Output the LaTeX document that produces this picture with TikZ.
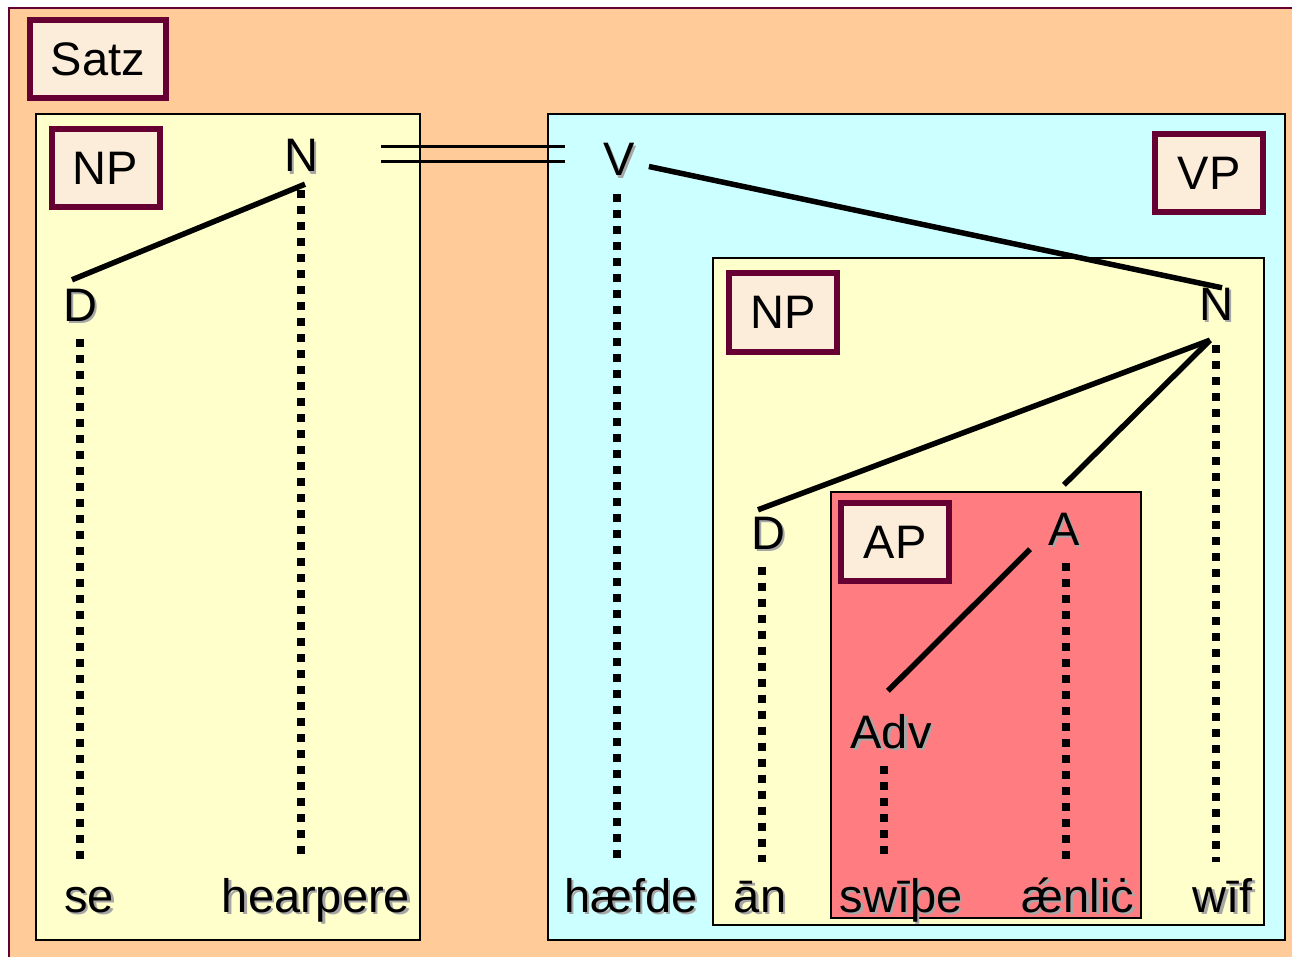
\documentclass[tikz,border=0pt]{standalone}
\usepackage{fontspec}
\setmainfont{Liberation Sans}
\definecolor{peach}{RGB}{255,204,153}
\definecolor{maroon}{RGB}{102,0,51}
\definecolor{lemon}{RGB}{255,255,204}
\definecolor{aqua}{RGB}{204,255,255}
\definecolor{rose}{RGB}{255,124,128}
\definecolor{cream}{RGB}{252,236,218}
\newcommand{\shd}[1]{\rlap{\kern2.5pt\raisebox{-2.5pt}{\color{black!35}#1}}#1}

\begin{document}
\begin{tikzpicture}[x=1pt,y=-1pt,font=\fontsize{47pt}{52pt}\selectfont,
  box/.style={draw=black,line width=2.5pt},
  cat/.style={draw=maroon,line width=6pt,fill=cream,minimum width=108pt,
    minimum height=78pt,inner sep=0pt},
  lbl/.style={inner sep=4pt,text height=33pt,text depth=0pt,anchor=base},
  word/.style={inner sep=4pt,text height=34pt,text depth=10pt,anchor=base},
  tree/.style={line width=5.5pt},
  dbl/.style={line width=3.5pt},
  dots/.style={line width=7.5pt,dash pattern=on 7.5pt off 8.5pt,
    shorten <=14pt,shorten >=12pt}]

  \useasboundingbox (0,0) rectangle (1292,957);
  \clip (0,0) rectangle (1292,957);
  \fill[white] (0,0) rectangle (1292,957);
  \draw[maroon,line width=2pt,fill=peach] (9,8) rectangle (1320,990);

  % phrase boxes
  \draw[box,fill=lemon] (36,114) rectangle (420,940);
  \draw[box,fill=aqua] (548,114) rectangle (1285,940);
  \draw[box,fill=lemon] (713,258) rectangle (1264,925);
  \draw[box,fill=rose] (831,492) rectangle (1141,918);

  \node[cat,minimum width=136pt] (satz) at (98,59) {Satz};
  \node[cat] (np1) at (105.5,168.5) {NP};
  \node[cat] (vp) at (1209,173.5) {VP};
  \node[cat] (np2) at (783,312.5) {NP};
  \node[cat] (ap) at (895,542) {AP};

  % categories
  \node[lbl] (N1) at (301,172) {\shd{N}};
  \node[lbl] (D1) at (80,321) {\shd{D}};
  \node[lbl] (V) at (619,176) {\shd{V}};
  \node[lbl] (N2) at (1216,320) {\shd{N}};
  \node[lbl] (D2) at (768,549) {\shd{D}};
  \node[lbl] (A) at (1064,545) {\shd{A}};
  \node[lbl] (Adv) at (891,748) {\shd{Adv}};

  % words
  \node[word] (w1) at (89,912) {\shd{se}};
  \node[word] (w2) at (316,912) {\shd{hearpere}};
  \node[word] (w3) at (631,912) {\shd{hæfde}};
  \node[word] (w4) at (760,912) {\shd{ān}};
  \node[word] (w5) at (901,912) {\shd{swīþe}};
  \node[word] (w6) at (1078,912) {\shd{ǽnliċ}};
  \node[word] (w7) at (1223,912) {\shd{wīf}};

  \coordinate (dl) at ([xshift=59pt]N1.east);
  \coordinate (dr) at ([xshift=-34pt]V.west);
  \draw[dbl] ([yshift=9pt]dl) -- ([yshift=9pt]dl -| dr);
  \draw[dbl] ([yshift=-6pt]dl) -- ([yshift=-6pt]dl -| dr);

  \draw[tree] ([shift={(4pt,-8pt)}]N1.south) -- ([shift={(-8pt,4pt)}]D1.north);
  \draw[tree] ([shift={(10pt,-7pt)}]V.east) -- ([shift={(6pt,-5pt)}]N2.north);
  \draw[tree] ([shift={(-6pt,-16pt)}]N2.south) -- ([shift={(-10pt,2pt)}]D2.north);
  \draw[tree] ([shift={(-6pt,-16pt)}]N2.south) -- ([yshift=23pt]A.north);
  \draw[tree] ([xshift=-14pt]A.south west) -- ([shift={(-3pt,20pt)}]Adv.north);

  \path[dots]
    (D1.south) edge (D1.south |- w1.north)
    (N1.south) edge (N1.south |- w2.north)
    ([xshift=-2pt]V.south) edge ([xshift=-2pt]V.south |- w3.north)
    ([xshift=-6pt]D2.south) edge ([xshift=-6pt]D2.south |- w4.north)
    ([xshift=-7pt]Adv.south) edge ([xshift=-7pt]Adv.south |- w5.north)
    ([xshift=2pt]A.south) edge ([xshift=2pt]A.south |- w6.north);
  \draw[dots,shorten <=21pt] (N2.south) -- (N2.south |- w7.north);
\end{tikzpicture}
\end{document}
